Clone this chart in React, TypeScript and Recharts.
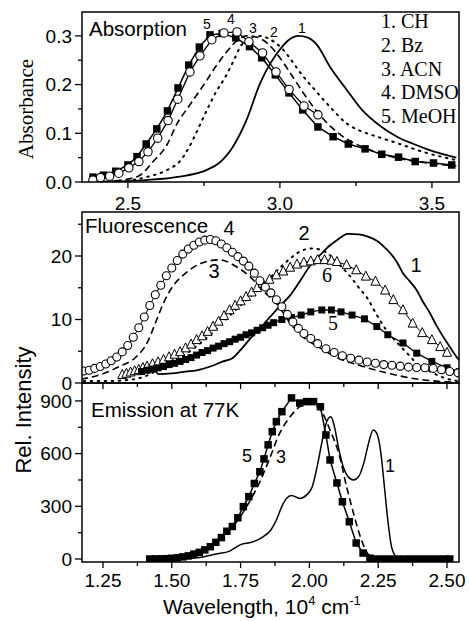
import React from 'react';
import { LineChart, Line, XAxis, YAxis } from 'recharts';

type Pt = [number, number];

// ---- Absorption (top panel), x in 10^4 cm-1 ----
const absCH: Pt[] = [[2.40,0],[2.45,0.001],[2.56,0.004],[2.67,0.011],[2.76,0.025],[2.80,0.039],[2.845,0.072],[2.89,0.127],[2.935,0.203],[2.97,0.245],[3.00,0.272],[3.03,0.292],[3.06,0.300],[3.09,0.297],[3.12,0.283],[3.165,0.236],[3.22,0.189],[3.27,0.148],[3.33,0.115],[3.385,0.093],[3.44,0.078],[3.49,0.066],[3.58,0.050]];
const absBz: Pt[] = [[2.45,0.001],[2.50,0.003],[2.56,0.010],[2.63,0.025],[2.67,0.042],[2.70,0.070],[2.73,0.108],[2.76,0.148],[2.79,0.185],[2.82,0.215],[2.85,0.252],[2.87,0.278],[2.90,0.295],[2.93,0.300],[2.97,0.292],[3.01,0.272],[3.04,0.248],[3.07,0.222],[3.115,0.189],[3.165,0.154],[3.22,0.120],[3.26,0.106],[3.30,0.097],[3.385,0.080],[3.47,0.062],[3.55,0.049],[3.58,0.045]];
const absACN: Pt[] = [[2.42,0.001],[2.48,0.004],[2.54,0.014],[2.58,0.040],[2.63,0.078],[2.66,0.118],[2.70,0.155],[2.75,0.200],[2.79,0.238],[2.83,0.271],[2.86,0.291],[2.89,0.300],[2.925,0.297],[2.96,0.284],[3.00,0.255],[3.04,0.218],[3.08,0.180],[3.12,0.146],[3.17,0.112],[3.22,0.088],[3.28,0.070],[3.35,0.055],[3.42,0.045],[3.50,0.038],[3.58,0.033]];
const absDMSO: Pt[] = [[2.385,0.004],[2.41,0.009],[2.44,0.012],[2.47,0.018],[2.503,0.029],[2.536,0.042],[2.566,0.062],[2.598,0.090],[2.632,0.126],[2.664,0.170],[2.704,0.226],[2.737,0.259],[2.776,0.292],[2.816,0.306],[2.859,0.308],[2.898,0.288],[2.943,0.265],[2.987,0.226],[3.03,0.190],[3.079,0.156],[3.125,0.138]];
const absMeOH: Pt[] = [[2.385,0.010],[2.42,0.014],[2.46,0.022],[2.50,0.035],[2.53,0.052],[2.56,0.078],[2.595,0.109],[2.63,0.146],[2.665,0.193],[2.70,0.240],[2.735,0.277],[2.77,0.302],[2.81,0.305],[2.855,0.296],[2.90,0.278],[2.94,0.255],[2.985,0.220],[3.03,0.183],[3.075,0.148],[3.125,0.113],[3.175,0.093],[3.225,0.078],[3.28,0.068],[3.335,0.057],[3.39,0.051],[3.445,0.042],[3.505,0.039],[3.565,0.035]];

// ---- Fluorescence (middle panel) ----
const fluCH: Pt[] = [[1.44,2.4],[1.45,1.4],[1.50,1.5],[1.55,1.8],[1.59,2.0],[1.64,2.6],[1.686,3.4],[1.72,3.9],[1.75,5.2],[1.785,7.0],[1.82,8.6],[1.857,10.4],[1.89,12.0],[1.93,13.8],[1.965,16.0],[2.00,18.3],[2.04,20.2],[2.075,21.7],[2.10,22.5],[2.14,23.5],[2.18,23.4],[2.21,23.1],[2.245,22.4],[2.27,21.5],[2.293,20.5],[2.32,18.9],[2.34,17.3],[2.365,16.0],[2.39,14.6],[2.41,13.0],[2.438,11.0],[2.46,9.2],[2.486,7.3],[2.51,5.7],[2.535,4.1],[2.55,3.3]];
const fluBz: Pt[] = [[1.18,0.3],[1.25,0.3],[1.32,0.4],[1.40,1.0],[1.47,2.6],[1.53,4.0],[1.59,5.8],[1.65,8.0],[1.71,10.6],[1.77,13.0],[1.83,15.3],[1.88,17.6],[1.93,19.6],[1.965,20.7],[2.01,21.2],[2.06,20.6],[2.10,19.0],[2.15,16.7],[2.18,15.0],[2.21,13.4],[2.245,10.7],[2.28,8.3],[2.32,6.3],[2.355,4.7],[2.39,3.1],[2.44,1.8],[2.49,0.8],[2.54,0.3]];
const fluACN: Pt[] = [[1.17,0.6],[1.24,1.3],[1.31,2.6],[1.37,4.1],[1.41,6.3],[1.44,9.4],[1.47,12.6],[1.50,15.0],[1.55,17.3],[1.61,18.9],[1.675,19.4],[1.735,18.3],[1.785,16.7],[1.83,14.6],[1.89,12.0],[1.93,9.4],[1.975,7.3],[2.04,5.5],[2.10,4.0],[2.18,2.8],[2.28,1.6],[2.365,0.8],[2.46,0.3],[2.55,0.1]];
const fluDMSO: Pt[] = [[1.18,1.9],[1.20,2.0],[1.22,2.3],[1.24,2.6],[1.26,3.0],[1.28,3.5],[1.30,4.1],[1.32,4.9],[1.34,5.9],[1.36,7.2],[1.38,8.7],[1.40,10.4],[1.42,12.2],[1.44,13.9],[1.46,15.4],[1.48,16.9],[1.50,18.1],[1.52,19.3],[1.54,20.3],[1.56,21.1],[1.58,21.7],[1.60,22.2],[1.62,22.5],[1.64,22.6],[1.66,22.4],[1.68,21.9],[1.70,21.3],[1.72,20.6],[1.74,19.9],[1.76,19.2],[1.78,18.4],[1.80,17.3],[1.82,16.1],[1.84,15.1],[1.86,14.2],[1.88,13.1],[1.90,12.0],[1.92,10.8],[1.94,9.6],[1.96,8.6],[1.98,7.8],[2.005,7.0],[2.03,6.2],[2.06,5.4],[2.09,4.8],[2.12,4.3],[2.15,3.9],[2.18,3.6],[2.21,3.3],[2.24,3.1],[2.27,2.9],[2.30,2.8],[2.33,2.65],[2.36,2.5],[2.39,2.45],[2.42,2.4],[2.45,2.3],[2.48,2.1],[2.51,1.8],[2.54,1.6]];
const fluMeOH: Pt[] = [[1.39,1.8],[1.41,2.0],[1.43,2.2],[1.45,2.4],[1.47,2.6],[1.49,2.9],[1.51,3.1],[1.53,3.4],[1.55,3.7],[1.57,4.0],[1.59,4.4],[1.61,4.8],[1.63,5.1],[1.65,5.5],[1.67,5.8],[1.69,6.2],[1.71,6.5],[1.73,6.9],[1.75,7.2],[1.77,7.6],[1.79,7.9],[1.81,8.3],[1.83,8.7],[1.85,9.1],[1.87,9.5],[1.90,10.0],[1.935,10.3],[1.97,10.7],[2.005,11.2],[2.045,11.5],[2.08,11.5],[2.115,11.2],[2.155,10.7],[2.20,10.1],[2.245,8.9],[2.285,7.6],[2.34,6.3],[2.39,4.7],[2.445,3.4],[2.50,2.4],[2.545,1.8]];
const flu6: Pt[] = [[1.32,1.3],[1.335,1.5],[1.35,1.7],[1.365,1.9],[1.38,2.1],[1.395,2.4],[1.41,2.6],[1.43,3.0],[1.45,3.3],[1.47,3.7],[1.49,4.1],[1.51,4.5],[1.53,4.9],[1.55,5.5],[1.57,6.1],[1.59,6.8],[1.61,7.4],[1.63,8.1],[1.65,8.9],[1.67,9.7],[1.69,10.6],[1.71,11.5],[1.73,12.2],[1.75,12.9],[1.77,13.6],[1.79,14.3],[1.81,15.0],[1.83,15.7],[1.855,16.3],[1.88,17.0],[1.905,17.6],[1.93,18.2],[1.955,18.7],[1.98,19.0],[2.005,19.2],[2.03,19.4],[2.055,19.4],[2.08,19.3],[2.10,19.1],[2.135,18.6],[2.17,17.8],[2.205,16.8],[2.24,16.0],[2.275,14.6],[2.305,13.1],[2.34,11.5],[2.375,9.4],[2.41,7.9],[2.445,6.8],[2.475,5.7],[2.50,4.8]];

// ---- Emission at 77K (bottom panel) ----
const emiCH: Pt[] = [[1.45,0],[1.55,2],[1.60,8],[1.66,28],[1.71,45],[1.75,82],[1.79,95],[1.83,125],[1.86,165],[1.88,222],[1.90,300],[1.92,350],[1.935,362],[1.965,345],[1.99,365],[2.01,410],[2.03,540],[2.05,700],[2.065,790],[2.078,810],[2.09,760],[2.105,640],[2.12,540],[2.14,470],[2.16,450],[2.18,472],[2.20,560],[2.215,660],[2.232,735],[2.245,715],[2.26,600],[2.272,420],[2.285,220],[2.30,60],[2.32,8],[2.35,0],[2.51,0]];
const emiACN: Pt[] = [[1.45,0],[1.55,10],[1.62,45],[1.68,115],[1.73,200],[1.78,320],[1.82,440],[1.855,570],[1.89,710],[1.93,810],[1.965,867],[2.00,888],[2.04,850],[2.075,734],[2.11,583],[2.135,412],[2.16,262],[2.185,127],[2.21,34],[2.235,3],[2.26,0]];
const emiMeOH: Pt[] = [[1.42,0],[1.44,0.5],[1.46,1],[1.48,2],[1.50,4],[1.52,7],[1.54,12],[1.56,18],[1.58,28],[1.60,38],[1.62,52],[1.64,70],[1.66,95],[1.68,122],[1.70,158],[1.72,185],[1.74,235],[1.76,298],[1.78,355],[1.80,430],[1.82,497],[1.835,570],[1.85,650],[1.865,725],[1.88,782],[1.90,839],[1.935,917],[1.965,888],[1.99,896],[2.015,896],[2.04,867],[2.06,706],[2.075,564],[2.10,433],[2.12,326],[2.145,212],[2.17,91],[2.195,34],[2.22,5],[2.245,0],[2.27,0],[2.295,0],[2.32,0],[2.345,0],[2.37,0],[2.395,0],[2.42,0],[2.445,0],[2.47,0],[2.495,0],[2.51,0]];

// ---- axes ----
const absXTicks = [2.5, 2.75, 3.0, 3.25, 3.5];
const absXMajor = [2.5, 3.0, 3.5];
const absYTicks = [0, 0.05, 0.1, 0.15, 0.2, 0.25, 0.3];
const absYMajor = [0, 0.1, 0.2, 0.3];
const lowXTicks = [1.25, 1.375, 1.5, 1.625, 1.75, 1.875, 2.0, 2.125, 2.25, 2.375, 2.5];
const lowXMajor = [1.25, 1.5, 1.75, 2.0, 2.25, 2.5];
const fluYTicks = [0, 5, 10, 15, 20, 25];
const fluYMajor = [0, 10, 20];
const emiYTicks = [0, 150, 300, 450, 600, 750, 900];
const emiYMajor = [0, 300, 600, 900];

const legendItems = ['1. CH', '2. Bz', '3. ACN', '4. DMSO', '5. MeOH'];

const SANS = '"Liberation Sans", Arial, Helvetica, sans-serif';
const SERIF = '"Liberation Serif", "Times New Roman", serif';

const toPts = (a: Pt[]) => a.map(([x, y]) => ({ x, y }));
const isMajor = (list: number[], v: number) => list.some((m) => Math.abs(m - v) < 1e-6);

const xTick = (majors: number[], digits: number, labels: boolean, dy: number) => (props: any) => {
  const { x, y, payload } = props;
  const major = isMajor(majors, payload.value);
  return (
    <g>
      <line x1={x} y1={y} x2={x} y2={y + (major ? 6 : 4)} stroke="#000" strokeWidth={1.3} />
      {labels && major ? (
        <text x={x} y={y + dy} textAnchor="middle" fontFamily={SANS} fontSize={19} fill="#000">
          {payload.value.toFixed(digits)}
        </text>
      ) : null}
    </g>
  );
};

const yTick = (majors: number[], digits: number) => (props: any) => {
  const { x, y, payload } = props;
  const major = isMajor(majors, payload.value);
  return (
    <g>
      <line x1={x} y1={y} x2={x - (major ? 7 : 4)} y2={y} stroke="#000" strokeWidth={1.3} />
      {major ? (
        <text x={x - 10} y={y} dy="0.36em" textAnchor="end" fontFamily={SANS} fontSize={19} fill="#000">
          {payload.value.toFixed(digits)}
        </text>
      ) : null}
    </g>
  );
};

const squareDot = (s: number) => (p: any) => (
  <rect key={`sq-${p.index}`} x={p.cx - s / 2} y={p.cy - s / 2} width={s} height={s} fill="#000" />
);
const circleDot = (r: number) => (p: any) => (
  <circle key={`ci-${p.index}`} cx={p.cx} cy={p.cy} r={r} fill="#fff" stroke="#000" strokeWidth={1.1} />
);
const triDot = (s: number) => (p: any) => (
  <path
    key={`tr-${p.index}`}
    d={`M${p.cx},${p.cy - s * 0.58}L${p.cx + s / 2},${p.cy + s * 0.42}L${p.cx - s / 2},${p.cy + s * 0.42}Z`}
    fill="#fff"
    stroke="#000"
    strokeWidth={1}
  />
);

const solid = { stroke: '#000', strokeWidth: 1.8, dot: false, activeDot: false, isAnimationActive: false } as const;
const dashed = { ...solid, strokeWidth: 1.6, strokeDasharray: '7 4' };
const dotted = { ...solid, strokeWidth: 2, strokeDasharray: '1.5 5.5', strokeLinecap: 'round' as const };

const margin = { top: 12, right: 10, bottom: 0, left: 0 };

export default function App() {
  return (
    <div style={{ position: 'absolute', left: 0, top: 0, width: 469, height: 621, background: '#fff' }}>
      {/* top: absorption */}
      <div style={{ position: 'absolute', left: 0, top: 0 }}>
        <LineChart width={469} height={222} margin={margin}>
          <XAxis dataKey="x" type="number" domain={[2.349, 3.589]} ticks={absXTicks} interval={0} allowDataOverflow
            height={40} axisLine={false} tickLine={false} tickSize={0} tickMargin={0} tick={xTick(absXMajor, 1, true, 28)} />
          <YAxis type="number" domain={[0, 0.349]} ticks={absYTicks} interval={0} allowDataOverflow
            width={82} axisLine={false} tickLine={false} tickSize={0} tickMargin={0} tick={yTick(absYMajor, 1)} />
          <Line data={toPts(absCH)} dataKey="y" type="monotone" {...solid} />
          <Line data={toPts(absBz)} dataKey="y" type="monotone" {...dotted} />
          <Line data={toPts(absACN)} dataKey="y" type="monotone" {...dashed} />
          <Line data={toPts(absMeOH)} dataKey="y" type="linear" {...solid} strokeWidth={1.5} dot={squareDot(7.5)} />
          <Line data={toPts(absDMSO)} dataKey="y" type="linear" {...solid} strokeWidth={1.3} dot={circleDot(4.2)} />
        </LineChart>
      </div>

      {/* middle: fluorescence */}
      <div style={{ position: 'absolute', left: 0, top: 200 }}>
        <LineChart width={469} height={200} margin={margin}>
          <XAxis dataKey="x" type="number" domain={[1.1737, 2.5436]} ticks={lowXTicks} interval={0} allowDataOverflow
            height={17} axisLine={false} tickLine={false} tickSize={0} tickMargin={0} tick={xTick(lowXMajor, 2, false, 0)} />
          <YAxis type="number" domain={[0, 26.93]} ticks={fluYTicks} interval={0} allowDataOverflow
            width={82} axisLine={false} tickLine={false} tickSize={0} tickMargin={0} tick={yTick(fluYMajor, 0)} />
          <Line data={toPts(fluCH)} dataKey="y" type="monotone" {...solid} />
          <Line data={toPts(fluBz)} dataKey="y" type="monotone" {...dotted} />
          <Line data={toPts(fluACN)} dataKey="y" type="monotone" {...dashed} />
          <Line data={toPts(flu6)} dataKey="y" type="linear" {...solid} strokeWidth={1} dot={triDot(9)} />
          <Line data={toPts(fluMeOH)} dataKey="y" type="linear" {...solid} strokeWidth={1.3} dot={squareDot(7)} />
          <Line data={toPts(fluDMSO)} dataKey="y" type="linear" {...solid} strokeWidth={1} dot={circleDot(4)} />
        </LineChart>
      </div>

      {/* bottom: emission at 77K */}
      <div style={{ position: 'absolute', left: 0, top: 370 }}>
        <LineChart width={469} height={251} margin={{ ...margin, top: 13 }}>
          <XAxis dataKey="x" type="number" domain={[1.1737, 2.5436]} ticks={lowXTicks} interval={0} allowDataOverflow
            height={59} axisLine={false} tickLine={false} tickSize={0} tickMargin={0} tick={xTick(lowXMajor, 2, true, 25)} />
          <YAxis type="number" domain={[-17, 1002]} ticks={emiYTicks} interval={0} allowDataOverflow
            width={82} axisLine={false} tickLine={false} tickSize={0} tickMargin={0} tick={yTick(emiYMajor, 0)} />
          <Line data={toPts(emiCH)} dataKey="y" type="monotone" {...solid} strokeWidth={1.5} />
          <Line data={toPts(emiACN)} dataKey="y" type="monotone" {...dashed} />
          <Line data={toPts(emiMeOH)} dataKey="y" type="linear" {...solid} strokeWidth={1.5} dot={squareDot(7.5)} />
        </LineChart>
      </div>

      {/* frames and text */}
      <svg width={469} height={621} style={{ position: 'absolute', left: 0, top: 0, pointerEvents: 'none' }}>
        <g fill="none" stroke="#000" strokeWidth={1.5}>
          <rect x={82} y={12} width={377} height={170} />
          <rect x={82} y={212} width={377} height={171} />
          <rect x={82} y={383} width={377} height={179} />
        </g>
        <g fontFamily={SANS} fill="#000">
          <text x={89} y={36} fontSize={20.5}>Absorption</text>
          <text x={85} y={233} fontSize={20.5}>Fluorescence</text>
          <text x={91} y={417} fontSize={20.5}>Emission at 77K</text>
          <g fontSize={14} textAnchor="middle">
            <text x={207} y={29}>5</text>
            <text x={231} y={24}>4</text>
            <text x={253} y={33}>3</text>
            <text x={274} y={37}>2</text>
            <text x={302} y={33}>1</text>
          </g>
          <g fontSize={20} textAnchor="middle">
            <text x={229} y={235}>4</text>
            <text x={214} y={278}>3</text>
            <text x={304} y={240}>2</text>
            <text x={416} y={272}>1</text>
          </g>
          <g fontSize={18} textAnchor="middle">
            <text x={247} y={462}>5</text>
            <text x={281} y={463}>3</text>
            <text x={390} y={472}>1</text>
          </g>
          <text transform="translate(31,410) rotate(-90)" textAnchor="middle" fontSize={22}>Rel. Intensity</text>
          <text x={163} y={614} fontSize={21}>
            Wavelength, 10<tspan dy={-9} fontSize={13}>4</tspan>
            <tspan dy={9}> cm</tspan>
            <tspan dy={-9} fontSize={13}>-1</tspan>
          </text>
        </g>
        <g fontFamily={SERIF} fill="#000">
          <g fontSize={20} textAnchor="middle">
            <text x={327} y={282}>6</text>
            <text x={333} y={330}>5</text>
          </g>
          {legendItems.map((s, i) => (
            <text key={s} x={381} y={28 + i * 23.8} fontSize={20}>{s}</text>
          ))}
          <text transform="translate(33,109) rotate(-90)" textAnchor="middle" fontSize={21}>Absorbance</text>
        </g>
      </svg>
    </div>
  );
}
